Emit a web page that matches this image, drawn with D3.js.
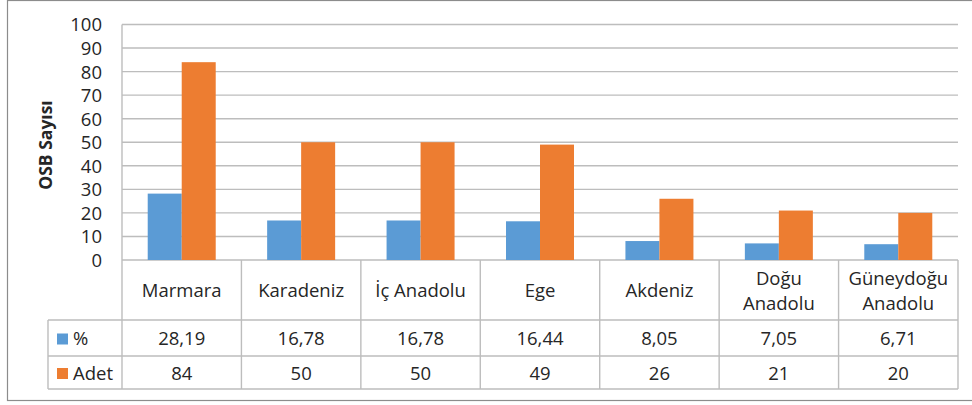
<!DOCTYPE html>
<html>
<head>
<meta charset="utf-8">
<script src="https://cdn.jsdelivr.net/npm/d3@7"></script>
<style>
  html, body { margin: 0; padding: 0; background: #fff; }
  svg { display: block; }
  text { font-family: "Open Sans", "Noto Sans", sans-serif; fill: #262626; }
</style>
</head>
<body>
<svg id="chart" width="972" height="405"></svg>
<script>
// Organize sanayi bölgeleri (OSB) by region
const regions = ["Marmara", "Karadeniz", "İç Anadolu", "Ege", "Akdeniz", "Doğu Anadolu", "Güneydoğu Anadolu"];
const regionLines = [["Marmara"], ["Karadeniz"], ["İç Anadolu"], ["Ege"], ["Akdeniz"], ["Doğu", "Anadolu"], ["Güneydoğu", "Anadolu"]];
const percentValues = [28.19, 16.78, 16.78, 16.44, 8.05, 7.05, 6.71];
const countValues = [84, 50, 50, 49, 26, 21, 20];
const seriesNames = ["%", "Adet"];
const seriesColors = ["#5B9BD5", "#ED7D31"];
const yTicks = [0, 10, 20, 30, 40, 50, 60, 70, 80, 90, 100];
const yTitle = "OSB Sayısı";

const svg = d3.select("#chart");
const gridColor = "#bdbdbd";

// Outer chart frame
svg.append("rect")
  .attr("x", 7.5).attr("y", 0.5)
  .attr("width", 990).attr("height", 400)
  .attr("fill", "none").attr("stroke", "#8c8c8c").attr("stroke-width", 1.2);

const plot = { left: 122, right: 958, top: 24.5, bottom: 260 };
const table = { left: 48, header: 320, row1: 356, row2: 389 };

const x = d3.scaleBand().domain(regions).range([plot.left, plot.right]);
const y = d3.scaleLinear().domain([0, 100]).range([plot.bottom, plot.top]);
const barW = 34;
const xs = d3.scaleBand().domain(seriesNames).range([-barW, barW]);

// Horizontal gridlines
svg.append("g").selectAll("line").data(yTicks).join("line")
  .attr("x1", plot.left).attr("x2", plot.right)
  .attr("y1", d => y(d)).attr("y2", d => y(d))
  .attr("stroke", gridColor).attr("stroke-width", 1.4);

// Y axis labels
const yAxis = d3.axisLeft(y).tickValues(yTicks).tickSize(0).tickPadding(0);
const yg = svg.append("g").attr("transform", `translate(${plot.left - 20},0)`).call(yAxis);
yg.select(".domain").remove();
yg.selectAll("text")
  .style("font-family", "'Open Sans', sans-serif")
  .style("font-size", "18.5px").attr("fill", "#262626").attr("dy", "0.35em");

// Y axis title
svg.append("text")
  .attr("transform", `translate(46,145) rotate(-90)`)
  .attr("text-anchor", "middle").attr("dy", "0.35em")
  .style("font-size", "17.5px").style("font-weight", "bold")
  .text(yTitle);

// Bars
const series = [percentValues, countValues];
series.forEach((vals, si) => {
  svg.append("g").selectAll("rect").data(regions).join("rect")
    .attr("x", (d, i) => x(d) + x.bandwidth() / 2 + xs(seriesNames[si]))
    .attr("width", xs.bandwidth())
    .attr("y", (d, i) => y(vals[i]))
    .attr("height", (d, i) => y(0) - y(vals[i]))
    .attr("fill", seriesColors[si]);
});

// Data table lines
const tg = svg.append("g").attr("stroke", gridColor).attr("stroke-width", 1.4);
// vertical axis line
tg.append("line").attr("x1", plot.left).attr("x2", plot.left).attr("y1", plot.top).attr("y2", table.row2);
// category separators and right edge
regions.forEach(r => {
  const xr = x(r) + x.bandwidth();
  tg.append("line").attr("x1", xr).attr("x2", xr).attr("y1", plot.bottom).attr("y2", table.row2);
});
// horizontal rules
[table.header, table.row1, table.row2].forEach(yy => {
  tg.append("line").attr("x1", table.left).attr("x2", plot.right).attr("y1", yy).attr("y2", yy);
});
tg.append("line").attr("x1", table.left).attr("x2", table.left).attr("y1", table.header).attr("y2", table.row2);

// Category headers
const fmt = v => String(v).replace(".", ",");
regions.forEach((r, i) => {
  const cx = x(r) + x.bandwidth() / 2;
  const lines = regionLines[i];
  const t = svg.append("text").attr("text-anchor", "middle").style("font-size", "18.5px");
  const mid = (plot.bottom + table.header) / 2 + 1;
  lines.forEach((ln, k) => {
    t.append("tspan").attr("x", cx)
      .attr("y", mid + (k - (lines.length - 1) / 2) * 25)
      .attr("dy", "0.35em").text(ln);
  });
});

// Value rows
const rowsY = [(table.header + table.row1) / 2 + 1, (table.row1 + table.row2) / 2 + 1];
series.forEach((vals, si) => {
  svg.append("g").selectAll("text").data(regions).join("text")
    .attr("x", d => x(d) + x.bandwidth() / 2)
    .attr("y", rowsY[si]).attr("dy", "0.35em")
    .attr("text-anchor", "middle").style("font-size", "18.5px")
    .text((d, i) => fmt(vals[i]));
  // legend key + series name
  svg.append("rect")
    .attr("x", 57).attr("y", rowsY[si] - 5.5)
    .attr("width", 11).attr("height", 11)
    .attr("fill", seriesColors[si]);
  svg.append("text")
    .attr("x", 73).attr("y", rowsY[si]).attr("dy", "0.35em")
    .style("font-size", "18.5px").text(seriesNames[si]);
});
</script>
</body>
</html>
